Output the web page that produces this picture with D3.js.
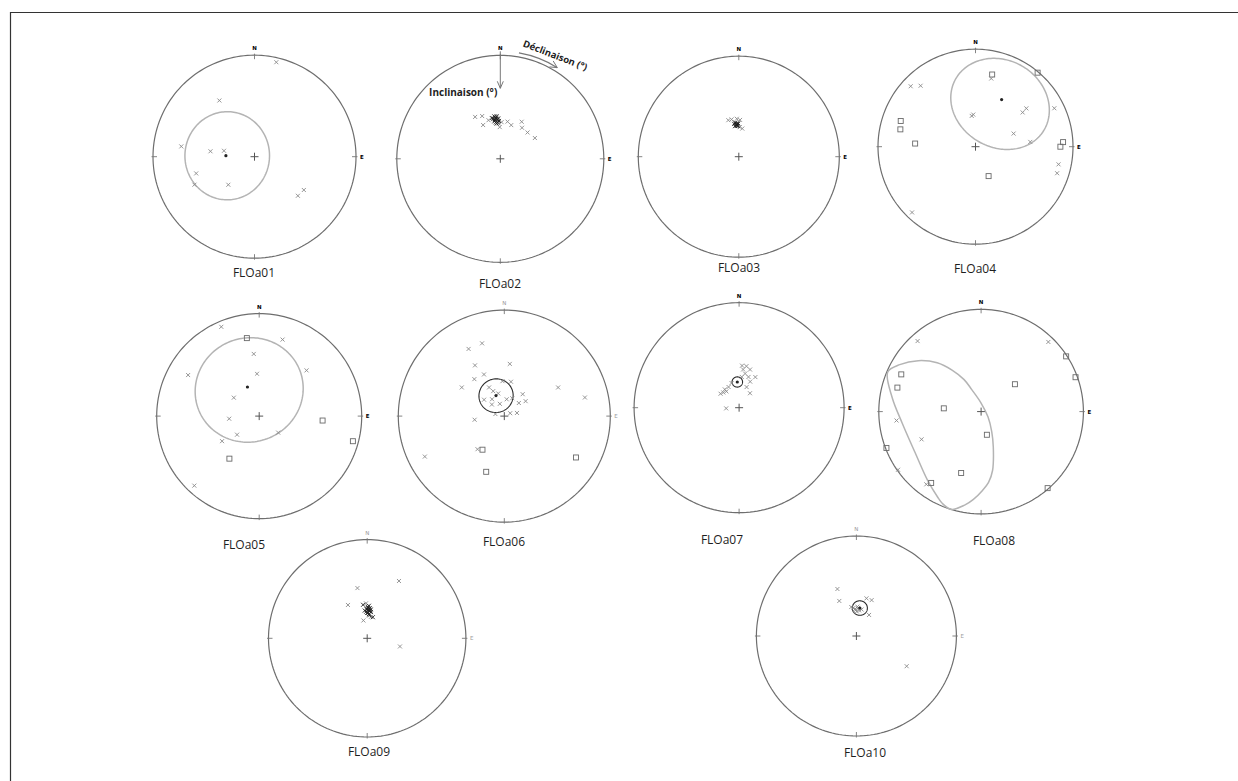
<!DOCTYPE html>
<html>
<head>
<meta charset="utf-8">
<script src="https://cdn.jsdelivr.net/npm/d3@7/dist/d3.min.js"></script>
<style>
  html, body { margin: 0; padding: 0; background: #fff; }
  svg { display: block; }
</style>
</head>
<body>
<svg id="fig" width="1238" height="781"></svg>
<script>
// Site names, one stereonet each
const names = ["FLOa01", "FLOa02", "FLOa03", "FLOa04", "FLOa05",
               "FLOa06", "FLOa07", "FLOa08", "FLOa09", "FLOa10"];

// Specimen directions [declination, inclination] in degrees.
// Negative inclination = upper hemisphere (open square).
const dirs01 = [[13,5],[328,35],[278,28],[277,54],[281,65],[254,40],[245,35],[223,59],[124,41],[132,42]];
const dirs02 = [[329,51],[337,53],[333,60],[343,58],[348,57],[355,58],[357,62],[359,65],[2,61],[11,60],
                [18,62],[30,56],[35,60],[46,60],[59,58]];
const dirs03 = [[344,59],[349,59],[357,59],[2,60],[7,67],[2,66]];
const dirs04 = [[40,-1],[13,-25],[13,29],[313,10],[318,17],[53,35],[54,40],[64,11],[356,63],[353,64],
                [289,-20],[283,-22],[71,56],[85,43],[273,-38],[87,-11],[90,-14],[102,14],[108,13],
                [156,-63],[224,7]];
const dirs05 = [[337,6],[351,-24],[17,23],[355,39],[300,21],[357,56],[46,36],[306,65],[265,66],[94,-38],
                [230,67],[131,70],[236,54],[105,-6],[215,-48],[223,8]];
const dirs06 = [[332,29],[343,29],[330,44],[6,49],[321,53],[334,54],[304,50],[357,63],[11,63],[332,65],
                [336,69],[345,72],[309,70],[324,74],[340,80],[313,77],[8,77],[24,75],[40,68],[55,70],
                [48,75],[283,83],[64,85],[76,80],[62,42],[77,23],[263,67],[219,57],[213,-59],[243,17],
                [120,-23],[198,-44]];
const dirs07 = [[4,57],[10,57],[16,59],[6,60],[10,63],[17,65],[28,63],[5,66],[23,68],[20,73],[343,70],
                [333,72],[322,72],[307,72],[314,73],[322,74],[37,76],[267,80]];
const dirs08 = [[318,8],[44,6],[57,-1],[70,-2],[295,-15],[286,-16],[51,-55],[275,-60],[264,18],[166,-71],
                [245,36],[249,-1],[235,1],[198,-37],[215,-16],[217,12],[139,-1]];
const dirs09 = [[29,34],[349,47],[330,58],[358,61],[348,75],[10,72],[104,62]];
const dirs10 = [[338,48],[334,58],[15,58],[23,58],[350,66],[357,68],[4,67],[11,68],[1,70],[31,70],
                [121,41],[358,69],[2,66],[6,69],[354,67]];

// Tight clusters (drawn darker where they pile up)
const core02 = [[350,58],[352,59],[354,57],[356,59],[351,60],[353,61],[355,56],[357,58],[349,57],
                [358,60],[352,56],[354,62],[356,61],[353,58]];
const core03 = [[352,63],[356,64],[359,63],[353,65],[358,65],[355,63],[357,64],[354,62],[358,63],[356,65]];
const core09 = [[0,66],[3,67],[5,65],[358,68],[2,69],[6,67],[1,64],[4,70],[359,66],[8,68],[3,63],[0,69],
                [5,71],[2,65],[7,66],[355,67],[353,62],[15,72]];

// Site means [dec, inc]
const means = [[272,67], null, null, [29,44], [338,65], [338,73], [356,70], null, null, [7,67]];

// Circular confidence cones [dec, inc, radius in degrees]
const cones = [[272,67,35], null, null, [30,45,40], [339,66,43],
               [338,73,13], [356,70,4], null, null, [7,67,6]];
const coneDark = [false, false, false, false, false, true, true, false, false, true];

// FLOa08: confidence region outline, as a ring of [dec, inc]
const region08 = [[293,1],[300,9],[309,22],[318,36],[325,49],[332,61],[337,71],[359,83],[128,83],
                  [152,72],[161,60],[169,41],[174,31],[179,24],[185,15],[190,8],[197,0],[203,3],
                  [207,7],[218,16],[238,25],[262,23],[279,13]];
const regions = [null, null, null, null, null, null, null, region08, null, null];

const allDirs = [dirs01, dirs02, dirs03, dirs04, dirs05, dirs06, dirs07, dirs08, dirs09, dirs10];
const allCores = [[], core02, core03, [], [], [], [], [], core09, []];

// Page placement of each net
const layout = [
  {cx: 254.5, cy: 156.7, r: 101.5, lx: 254, ly: 277, mark: "dark"},
  {cx: 500.3, cy: 158.8, r: 103.5, lx: 500, ly: 288, mark: "dark"},
  {cx: 738.8, cy: 156.7, r: 100.5, lx: 739, ly: 272, mark: "dark"},
  {cx: 975.5, cy: 146.7, r: 97.5,  lx: 975, ly: 273, mark: "dark"},
  {cx: 259.2, cy: 416.1, r: 102.5, lx: 244, ly: 549, mark: "dark"},
  {cx: 504.3, cy: 416.1, r: 106,   lx: 504, ly: 546, mark: "light"},
  {cx: 739.1, cy: 407.7, r: 105,   lx: 722, ly: 544, mark: "dark"},
  {cx: 981.1, cy: 411.6, r: 102.3, lx: 994, ly: 545, mark: "dark"},
  {cx: 367.2, cy: 638.3, r: 98.7,  lx: 369, ly: 756, mark: "light"},
  {cx: 856.4, cy: 636,   r: 100,   lx: 865, ly: 757, mark: "light"}
];

const svg = d3.select("#fig");

// Outer frame (top and left rules)
svg.append("path")
  .attr("d", "M10.5,781V12.5H1238")
  .attr("fill", "none").attr("stroke", "#333").attr("stroke-width", 1.2);

const toGeo = d => [180 - d[0], Math.abs(d[1])];
const RAD = Math.PI / 180;
const smoothRing = d3.line().curve(d3.curveCatmullRomClosed.alpha(0.5));

layout.forEach((L, i) => {
  // Lower-hemisphere equal-area (Schmidt) net
  const proj = d3.geoAzimuthalEqualArea()
    .rotate([0, -90])
    .clipAngle(90)
    .scale(L.r / Math.SQRT2)
    .translate([L.cx, L.cy])
    .precision(0.1);
  const path = d3.geoPath(proj);
  const g = svg.append("g").attr("class", "net");

  // primitive
  g.append("path").datum({type: "Sphere"}).attr("d", path)
    .attr("fill", "none").attr("stroke", "#6e6e6e").attr("stroke-width", 1.2);

  // cardinal ticks
  [0, 90, 180, 270].forEach(dec => {
    const p = proj([180 - dec, 0]);
    const ux = (p[0] - L.cx) / L.r, uy = (p[1] - L.cy) / L.r;
    g.append("line")
      .attr("x1", p[0] - ux * 4).attr("y1", p[1] - uy * 4)
      .attr("x2", p[0] + ux * 1.5).attr("y2", p[1] + uy * 1.5)
      .attr("stroke", "#777").attr("stroke-width", 0.9);
  });

  // centre cross
  const c = proj([0, 90]);
  g.append("path")
    .attr("d", `M${c[0] - 4},${c[1]}H${c[0] + 4}M${c[0]},${c[1] - 4}V${c[1] + 4}`)
    .attr("stroke", "#555").attr("stroke-width", 1);

  // N and E letters
  const pn = proj([180, 0]), pe = proj([90, 0]);
  const markFill = L.mark === "dark" ? "#000" : "#999";
  const markWeight = L.mark === "dark" ? "900" : "400";
  g.append("text").attr("x", pn[0]).attr("y", pn[1] - 5)
    .attr("text-anchor", "middle").attr("font-family", "DejaVu Sans")
    .attr("font-size", 5.5).attr("font-weight", markWeight).attr("fill", markFill).text("N");
  g.append("text").attr("x", pe[0] + 4).attr("y", pe[1] + 2)
    .attr("text-anchor", "start").attr("font-family", "DejaVu Sans")
    .attr("font-size", 5.5).attr("font-weight", markWeight).attr("fill", markFill).text("E");

  // circular confidence cone
  if (cones[i]) {
    const circ = d3.geoCircle()
      .center(toGeo(cones[i]))
      .radius(cones[i][2])
      .precision(2);
    g.append("path").datum(circ()).attr("d", path)
      .attr("fill", "none")
      .attr("stroke", coneDark[i] ? "#2a2a2a" : "#b4b4b4")
      .attr("stroke-width", coneDark[i] ? 1.1 : 1.5);
  }

  // confidence region given as an outline of directions
  if (regions[i]) {
    const pts = regions[i].map(d => proj(toGeo(d)));
    g.append("path").attr("d", smoothRing(pts))
      .attr("fill", "none").attr("stroke", "#b4b4b4").attr("stroke-width", 1.5);
  }

  // specimen directions
  const drawDir = (d, col) => {
    const p = proj(toGeo(d));
    if (d[1] < 0) {
      g.append("rect").attr("x", p[0] - 2.5).attr("y", p[1] - 2.5)
        .attr("width", 5).attr("height", 5)
        .attr("fill", "none").attr("stroke", "#6a6a6a").attr("stroke-width", 0.9);
    } else {
      g.append("path")
        .attr("d", `M${p[0] - 2},${p[1] - 2}L${p[0] + 2},${p[1] + 2}M${p[0] - 2},${p[1] + 2}L${p[0] + 2},${p[1] - 2}`)
        .attr("stroke", col).attr("stroke-width", 0.9);
    }
  };
  allDirs[i].forEach(d => drawDir(d, "#8a8a8a"));
  allCores[i].forEach(d => drawDir(d, "#1e1e1e"));

  if (means[i]) {
    const m = proj(toGeo(means[i]));
    g.append("circle").attr("cx", m[0]).attr("cy", m[1]).attr("r", 1.6).attr("fill", "#222");
  }

  // site label
  svg.append("text").attr("x", L.lx).attr("y", L.ly)
    .attr("text-anchor", "middle").attr("font-family", "Open Sans")
    .attr("font-size", 12).attr("fill", "#1e1e1e").text(names[i]);
});

// Reading guide on FLOa02: inclination and declination arrows
{
  const L = layout[1];
  const top = L.cy - L.r;
  const gA = svg.append("g").attr("stroke", "#777").attr("fill", "none").attr("stroke-width", 1);
  gA.append("path").attr("d", `M${L.cx},${top - 4}V${top + 33}`);
  gA.append("path").attr("d", `M${L.cx - 3},${top + 26}L${L.cx},${top + 33}L${L.cx + 3},${top + 26}`);

  const rr = L.r + 4, a0 = 10, a1 = 32;
  const arc = d3.path();
  arc.arc(L.cx, L.cy, rr, (a0 - 90) * RAD, (a1 - 90) * RAD);
  gA.append("path").attr("d", arc.toString()).attr("stroke-width", 1.2);
  const th = (a1 - 90) * RAD;
  const tip = [L.cx + rr * Math.cos(th), L.cy + rr * Math.sin(th)];
  const tg = [-Math.sin(th), Math.cos(th)], nm = [Math.cos(th), Math.sin(th)];
  gA.append("path").attr("d",
    `M${tip[0] - tg[0] * 7 + nm[0] * 3.5},${tip[1] - tg[1] * 7 + nm[1] * 3.5}` +
    `L${tip[0]},${tip[1]}` +
    `L${tip[0] - tg[0] * 7 - nm[0] * 3.5},${tip[1] - tg[1] * 7 - nm[1] * 3.5}`);

  svg.append("text").attr("x", L.cx - 3).attr("y", top + 41)
    .attr("text-anchor", "end").attr("font-family", "Open Sans").attr("font-weight", 700)
    .attr("font-size", 10).attr("fill", "#222").text("Inclinaison (°)");
  svg.append("text").attr("transform", `translate(${L.cx + 22},${top - 9}) rotate(21)`)
    .attr("font-family", "Open Sans").attr("font-weight", 700)
    .attr("font-size", 9.5).attr("fill", "#222").text("Déclinaison (°)");
}
</script>
</body>
</html>
